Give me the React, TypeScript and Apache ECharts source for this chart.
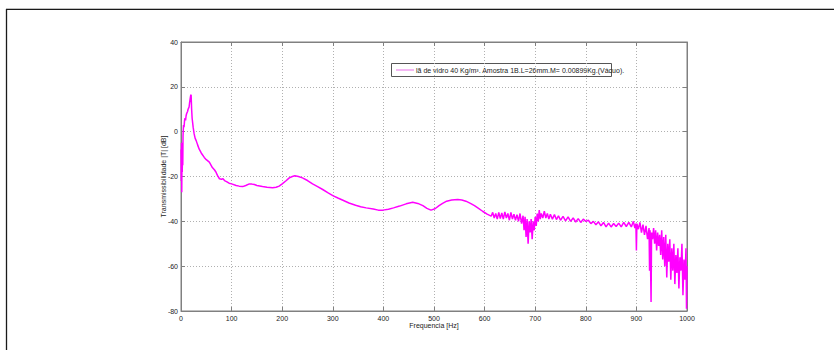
import React, { useEffect, useRef } from "react";
import * as echarts from "echarts";

const seriesName = "lã de vidro 40 Kg/m³. Amostra 1B.L=26mm.M= 0.00899Kg.(Vácuo).";
const xLabel = "Frequencia [Hz]";
const yLabel = "Transmissibilidade |T| [dB]";

// [Hz, dB] pairs
const lowBand: number[][] = [
  [0, -8], [0.5, -22], [1, -5], [1.5, -27], [2, -10], [2.5, -18], [3, -6], [3.5, -15], [4, -2],
  [5, 3], [6, 2], [7, 5], [8, 6], [9, 5], [10, 7], [11, 8], [12, 8.5], [13, 9], [14, 10],
  [15, 10.5], [16, 11], [17, 13], [18, 14.5], [19, 16], [20, 16.5], [21, 10], [22, 6], [23, 4],
  [24, 2], [26, -1], [28, -3], [30, -4], [33, -6], [36, -7.8], [40, -9.5], [46, -11.5],
  [50, -12.5], [56, -13.6], [62, -16], [66, -17], [69, -18], [72, -19.5], [76, -21], [80, -21.2],
  [83, -21], [86, -21.8], [90, -22.3], [95, -23], [100, -23.3], [109, -24], [115, -24.3],
  [122, -24.5], [128, -24], [135, -23.3], [140, -23.4], [145, -23.6], [150, -24], [161, -24.5],
  [170, -24.8], [181, -25], [188, -24.8], [194, -24.3],
];

const midBand: number[][] = [
  [200, -23.3], [207, -22], [214, -20.6], [220, -20], [225, -19.7], [232, -20], [240, -20.6],
  [250, -21.8], [260, -23.3], [270, -24.5], [280, -25.8], [290, -27.2], [300, -28.5],
  [310, -29.6], [320, -30.6], [332, -31.8], [345, -32.8], [355, -33.5], [366, -34],
  [380, -34.5], [390, -35], [399, -35], [410, -34.6], [420, -34], [432, -33.2], [445, -32.2],
  [458, -31.5], [468, -32], [478, -33], [486, -34.2], [494, -35], [502, -34.4], [510, -33],
  [517, -32], [525, -31], [535, -30.5], [547, -30.3], [555, -30.5], [563, -31], [572, -32],
  [580, -33], [588, -34.2], [596, -35.5], [605, -36.8],
];

const noisyBand: number[][] = [
  [613, -37.7], [616, -36], [619, -38.5], [622, -36.5], [625, -39], [628, -36], [631, -38.8],
  [634, -36.3], [637, -39], [640, -35.8], [643, -38.5], [646, -36.5], [649, -39.5], [652, -36],
  [655, -39], [658, -36.8], [661, -39.5], [664, -37], [667, -40], [670, -36.5], [673, -41],
  [676, -37.5], [678, -44], [680, -38], [682, -47], [684, -39], [686, -50], [688, -40],
  [690, -45], [692, -39], [694, -48], [696, -40], [698, -44], [700, -38], [702, -42],
  [704, -36.5], [706, -40], [708, -35], [710, -39], [712, -36.5], [715, -38.5], [718, -35.5],
  [721, -38.5], [724, -36.5], [727, -39], [730, -36.8], [734, -39], [738, -37], [742, -39.2],
  [746, -37.5], [750, -39.5], [755, -37.8], [760, -39.8], [765, -38], [770, -40], [775, -38.5],
  [780, -40.3], [785, -38.8], [790, -40.5], [795, -39], [800, -40], [805, -39.5], [810, -41],
  [815, -40], [820, -41.5], [825, -40.2], [830, -42], [835, -40.5], [840, -42.5], [845, -40.8],
  [850, -42.5], [855, -41], [860, -42.3], [865, -40.8], [870, -42.5], [875, -40.5], [880, -42.3],
  [885, -40.5], [890, -42.5], [894, -40], [897, -43], [899, -41],
];

const tailBand: number[][] = [
  [900, -53], [901, -41], [904, -43.5], [907, -40.5], [910, -45], [913, -41.5], [916, -46],
  [919, -42], [922, -48], [925, -43], [926, -62], [927, -44], [929, -76], [930, -45], [932, -48],
  [934, -43], [936, -50], [938, -44], [940, -53], [942, -45], [944, -51], [946, -46], [948, -55],
  [950, -44], [952, -57], [954, -47], [956, -60], [958, -46], [960, -65], [962, -50], [964, -58],
  [966, -48], [968, -66], [970, -52], [972, -62], [974, -50], [976, -68], [978, -55], [980, -63],
  [982, -52], [984, -70], [986, -56], [988, -62], [990, -50], [992, -73], [994, -57], [996, -66],
  [998, -52], [999, -79], [1000, -60],
];

const yTicks = { min: -80, max: 40, interval: 20 };
const xTicks = { min: 0, max: 1000, interval: 100 };

export default function App() {
  const ref = useRef<HTMLDivElement>(null);
  useEffect(() => {
    if (!ref.current) return;
    const chart = echarts.init(ref.current, undefined, { renderer: "svg" });
    const font = "Liberation Sans, Arial, sans-serif";
    const data = [...lowBand, ...midBand, ...noisyBand, ...tailBand];
    const axisLine = { show: true, onZero: false, lineStyle: { color: "#808080", width: 1 } };
    const tick = { show: true, inside: true, length: 4, lineStyle: { color: "#808080" } };
    const fmt = (v: number) => String(v);
    chart.setOption({
      animation: false,
      backgroundColor: "#ffffff",
      grid: { left: 181, right: 147, top: 42, bottom: 39, show: true, borderColor: "#808080", borderWidth: 1 },
      legend: { show: false },
      xAxis: [
        {
          type: "value",
          min: xTicks.min,
          max: xTicks.max,
          interval: xTicks.interval,
          name: xLabel,
          nameLocation: "middle",
          nameGap: 11,
          nameMoveOverlap: false,
          nameTextStyle: { fontFamily: font, fontSize: 7, color: "#222" },
          axisLine,
          axisTick: tick,
          axisLabel: { fontFamily: font, fontSize: 7, color: "#222", margin: 4, formatter: fmt },
          splitLine: { show: true, lineStyle: { color: "#b0b0b0", type: [1, 2], width: 1 } },
        },
        {
          type: "value",
          position: "top",
          min: xTicks.min,
          max: xTicks.max,
          interval: xTicks.interval,
          axisLine,
          axisTick: tick,
          axisLabel: { show: false },
          splitLine: { show: false },
        },
      ],
      yAxis: [
        {
          type: "value",
          min: yTicks.min,
          max: yTicks.max,
          interval: yTicks.interval,
          name: yLabel,
          nameLocation: "middle",
          nameGap: 14,
          nameMoveOverlap: false,
          nameTextStyle: { fontFamily: font, fontSize: 7, color: "#222" },
          axisLine,
          axisTick: tick,
          axisLabel: { fontFamily: font, fontSize: 7, color: "#222", margin: 3, formatter: fmt },
          splitLine: { show: true, lineStyle: { color: "#b0b0b0", type: [1, 2], width: 1 } },
        },
        {
          type: "value",
          position: "right",
          min: yTicks.min,
          max: yTicks.max,
          interval: yTicks.interval,
          axisLine,
          axisTick: tick,
          axisLabel: { show: false },
          splitLine: { show: false },
        },
      ],
      series: [
        {
          name: seriesName,
          type: "line",
          data,
          xAxisIndex: 0,
          yAxisIndex: 0,
          showSymbol: false,
          symbol: "none",
          lineStyle: { color: "#ff00ff", width: 1.5 },
          itemStyle: { color: "#ff00ff" },
          clip: true,
        },
      ],
      graphic: [
        { type: "line", shape: { x1: 6, y1: 8.5, x2: 834, y2: 8.5 }, style: { stroke: "#c0c0c0", lineWidth: 1 } },
        { type: "line", shape: { x1: 6, y1: 9.5, x2: 834, y2: 9.5 }, style: { stroke: "#1a1a1a", lineWidth: 1.2 } },
        { type: "line", shape: { x1: 6.5, y1: 9, x2: 6.5, y2: 350 }, style: { stroke: "#1a1a1a", lineWidth: 1.3 } },
        {
          type: "group",
          left: 391,
          top: 63,
          children: [
            { type: "rect", shape: { x: 0.5, y: 0.5, width: 220, height: 13 }, style: { fill: "#ffffff", stroke: "#555555", lineWidth: 1 } },
            { type: "line", shape: { x1: 5, y1: 7, x2: 23, y2: 7 }, style: { stroke: "#f0a0f0", lineWidth: 1.5 } },
            {
              type: "text",
              x: 25,
              y: 7.5,
              style: { text: seriesName, fontFamily: font, fontSize: 7, fill: "#222", verticalAlign: "middle", align: "left" },
            },
          ],
        },
      ],
    });
    return () => chart.dispose();
  }, []);
  return (
    <div
      ref={ref}
      style={{ position: "fixed", left: 0, top: 0, width: 834, height: 350, background: "#fff" }}
    />
  );
}
